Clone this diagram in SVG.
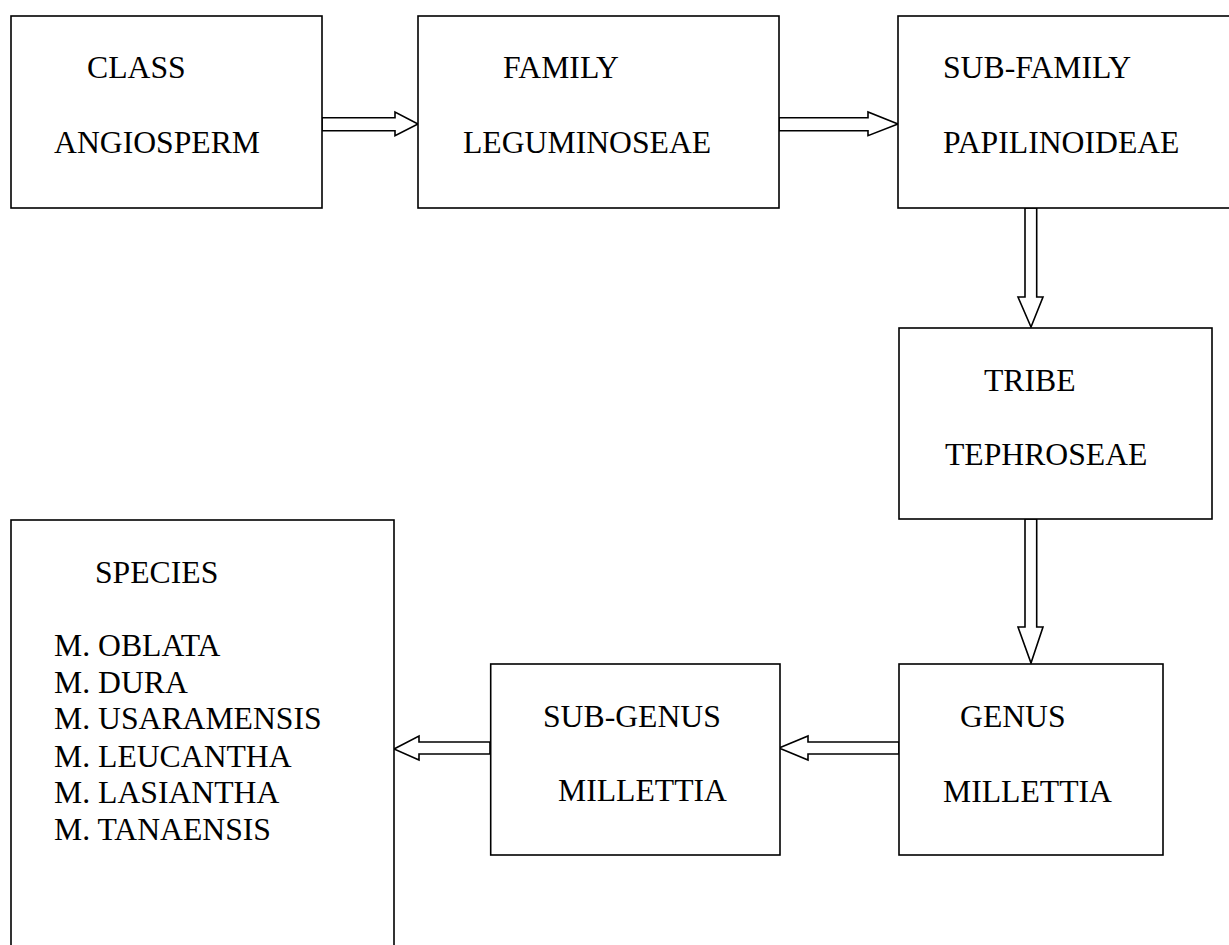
<svg xmlns="http://www.w3.org/2000/svg" width="1229" height="945" viewBox="0 0 1229 945">
<style>
.box{fill:#fff;stroke:#000;stroke-width:1.6}
.arr{fill:#fff;stroke:#000;stroke-width:1.6;stroke-linejoin:miter}
text{font-family:"Liberation Serif","Times New Roman",serif;font-size:31.7px;fill:#000}
</style>
<rect width="1229" height="945" fill="#fff"/>
<g id="connectors">
<path class="arr" d="M322,117.7 H395 V112 L418,124 L395,135.7 V130.7 H322 Z"/>
<path class="arr" d="M779,117.7 H868 V112 L898,124 L868,135.7 V130.7 H779 Z"/>
<path class="arr" d="M1025,208 V297 H1018 L1031,327 L1043,297 H1036.7 V208 Z"/>
<path class="arr" d="M1025,519 V627 H1018 L1031,663 L1043,627 H1036.7 V519 Z"/>
<path class="arr" d="M899,742 H808 V736 L779,748 L808,760 V754 H899 Z"/>
<path class="arr" d="M490,742 H419 V736 L394,749 L419,760 V754 H490 Z"/>
</g>
<g id="class">
<rect class="box" x="11" y="16" width="311" height="192"/>
<text x="87" y="78">CLASS</text>
<text x="54" y="153">ANGIOSPERM</text>
</g>
<g id="family">
<rect class="box" x="418" y="16" width="361" height="192"/>
<text x="503" y="78">FAMILY</text>
<text x="463" y="153">LEGUMINOSEAE</text>
</g>
<g id="subfamily">
<rect class="box" x="898" y="16" width="345" height="192"/>
<text x="943" y="78">SUB-FAMILY</text>
<text x="943" y="153">PAPILINOIDEAE</text>
</g>
<g id="tribe">
<rect class="box" x="899" y="328" width="313" height="191"/>
<text x="984" y="391">TRIBE</text>
<text x="945" y="465">TEPHROSEAE</text>
</g>
<g id="genus">
<rect class="box" x="899" y="664" width="264" height="191"/>
<text x="960" y="727">GENUS</text>
<text x="943" y="802">MILLETTIA</text>
</g>
<g id="subgenus">
<rect class="box" x="490.7" y="664" width="289.3" height="191"/>
<text x="543" y="727">SUB-GENUS</text>
<text x="558" y="801">MILLETTIA</text>
</g>
<g id="species">
<rect class="box" x="11" y="520" width="383" height="440"/>
<text x="95" y="583">SPECIES</text>
<text x="54" y="656">M. OBLATA</text>
<text x="54" y="693">M. DURA</text>
<text x="54" y="729">M. USARAMENSIS</text>
<text x="54" y="767">M. LEUCANTHA</text>
<text x="54" y="803">M. LASIANTHA</text>
<text x="54" y="840">M. TANAENSIS</text>
</g>
</svg>
